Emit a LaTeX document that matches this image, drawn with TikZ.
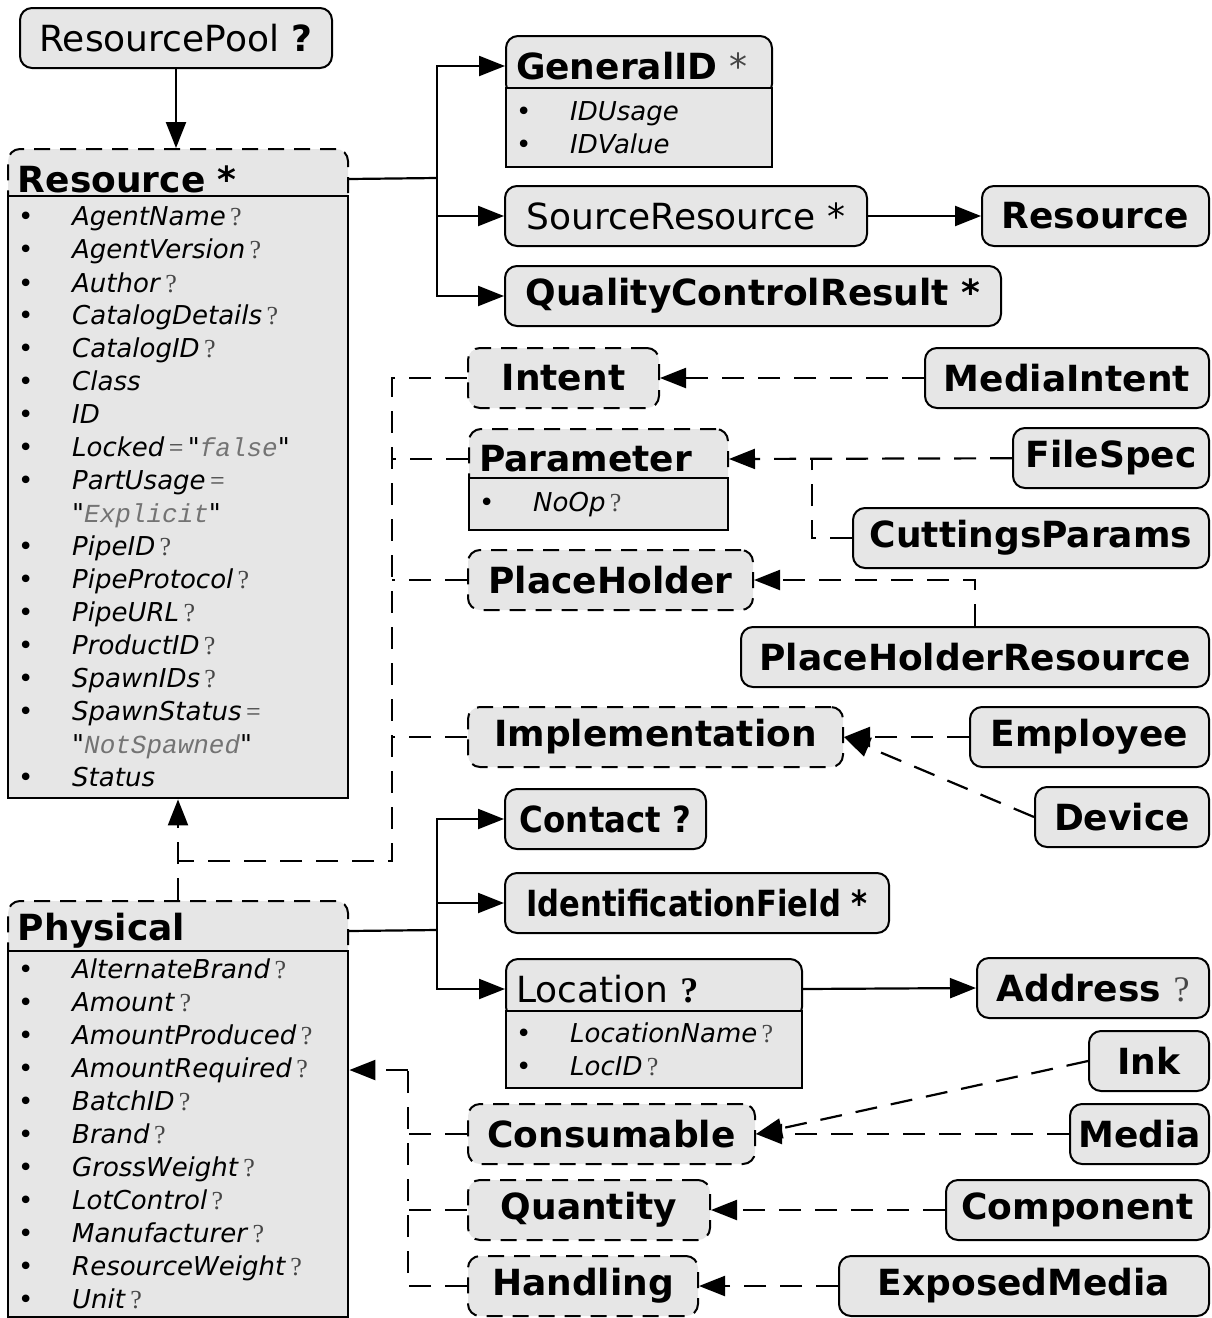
\documentclass[tikz,border=0pt]{standalone}
\usepackage{fontspec}
\setmainfont{DejaVu Sans}[Ligatures=TeXOff]
\newfontfamily\qfont{Liberation Serif}
\newfontfamily\valfont{Liberation Mono}
\usetikzlibrary{arrows.meta, calc}
\definecolor{boxgray}{RGB}{230,230,230}
\definecolor{qgray}{RGB}{70,70,70}
\definecolor{valgray}{RGB}{115,115,115}

\newcommand{\opt}{\,{\qfont\color{qgray}?}}
\newcommand{\eqv}{\,{\qfont\color{qgray}=}}
\newcommand{\val}[1]{"{\valfont\itshape\color{valgray}#1}"}
\newcommand{\itm}[1]{\makebox[27pt][l]{\textbullet}\textit{#1}}
\newcommand{\cont}{\hspace*{27pt}}
\newcommand{\narrow}[2]{\scalebox{#1}[1]{#2}}

\begin{document}
\begin{tikzpicture}[x=0.5pt, y=-0.5pt,
  box/.style={draw, line width=1pt, rounded corners=6pt, fill=boxgray, minimum height=30pt, inner xsep=4pt, font=\fontsize{18}{21}\selectfont\bfseries},
  dbox/.style={box, dash pattern=on 8pt off 5pt},
  head/.style={box, anchor=north west, align=left, inner xsep=5pt},
  dhead/.style={head, dash pattern=on 8pt off 5pt},
  body/.style={draw, line width=1.2pt, fill=boxgray, anchor=north west, align=left, inner xsep=5pt, font=\fontsize{13}{16.5}\selectfont},
  link/.style={line width=1.1pt},
  dlink/.style={link, dash pattern=on 11pt off 7pt},
  conn/.style={link, -{Triangle[length=13pt,width=10pt]}},
  dep/.style={conn, dash pattern=on 11pt off 7pt}]
\useasboundingbox (0,0) rectangle (1211,1318);

% left column
\node[box, minimum width=156pt] (pool) at (176,38) {{\mdseries ResourcePool} ?};
\node[dhead, text width=160pt] (res) at (7,148) {Resource *};
\node[body, text width=160pt, minimum height=301pt] (resbody) at (7,195) {%
\itm{AgentName}\opt\\
\itm{AgentVersion}\opt\\
\itm{Author}\opt\\
\itm{CatalogDetails}\opt\\
\itm{CatalogID}\opt\\
\itm{Class}\\
\itm{ID}\\
\itm{Locked}\eqv\,\val{false}\\
\itm{PartUsage}\eqv\\
\cont\val{Explicit}\\
\itm{PipeID}\opt\\
\itm{PipeProtocol}\opt\\
\itm{PipeURL}\opt\\
\itm{ProductID}\opt\\
\itm{SpawnIDs}\opt\\
\itm{SpawnStatus}\eqv\\
\cont\val{NotSpawned}\\
\itm{Status}};
\node[dhead, text width=160pt] (physical) at (7,900) {Physical};
\node[body, text width=160pt, minimum height=183pt] (phbody) at (7,950) {%
\itm{AlternateBrand}\opt\\
\itm{Amount}\opt\\
\itm{AmountProduced}\opt\\
\itm{AmountRequired}\opt\\
\itm{BatchID}\opt\\
\itm{Brand}\opt\\
\itm{GrossWeight}\opt\\
\itm{LotControl}\opt\\
\itm{Manufacturer}\opt\\
\itm{ResourceWeight}\opt\\
\itm{Unit}\opt};

% children of Resource
\node[head, text width=123pt] (genid) at (505,35) {GeneralID {\mdseries\color{qgray}*}};
\node[body, text width=123pt, minimum height=39.5pt] (genbody) at (505,87) {%
\itm{IDUsage}\\
\itm{IDValue}};
\node[box, minimum width=181pt] (srcres) at (686,216) {\mdseries SourceResource *};
\node[box, minimum width=113.5pt] (resref) at (1095.5,216) {Resource};
\node[box, minimum width=248pt] (qcr) at (753,296) {QualityControlResult *};

% abstract resources
\node[dbox, minimum width=95.5pt] (intent) at (563.5,378) {Intent};
\node[box, minimum width=142pt] (mintent) at (1067,378) {MediaIntent};
\node[dhead, text width=119.5pt] (param) at (468,428) {Parameter};
\node[body, text width=119.5pt, minimum height=26pt] (parbody) at (468,477) {\itm{NoOp}\opt};
\node[box, minimum width=98pt] (filespec) at (1111,458) {FileSpec};
\node[box, minimum width=178pt] (cutparams) at (1031,538) {CuttingsParams};
\node[dbox, minimum width=142.5pt] (placeholder) at (610.5,580) {PlaceHolder};
\node[box, minimum width=234pt] (phres) at (975,657) {PlaceHolderResource};
\node[dbox, minimum width=187.5pt] (impl) at (655.5,737) {Implementation};
\node[box, minimum width=119.5pt] (employee) at (1089.5,737) {Employee};
\node[box, minimum width=87pt] (device) at (1122,817) {Device};

% children of Physical
\node[box, minimum width=100.5pt] (contact) at (605.5,819) {\narrow{0.9}{Contact ?}};
\node[box, minimum width=192pt] (idfield) at (697,903) {\narrow{0.85}{IdentificationField *}};
\node[head, text width=138pt] (loc) at (505,958) {{\mdseries Location} {\qfont\bfseries ?}};
\node[body, text width=138pt, minimum height=38.5pt] (locbody) at (505,1010) {%
\itm{LocationName}\opt\\
\itm{LocID}\opt};
\node[box, minimum width=116pt] (address) at (1093,988) {Address {\mdseries\qfont\color{qgray}?}};
\node[box, minimum width=60pt] (ink) at (1149,1061) {Ink};
\node[dbox, minimum width=143.5pt] (consumable) at (611.5,1134) {Consumable};
\node[box, minimum width=69.5pt] (media) at (1139.5,1134) {Media};
\node[dbox, minimum width=121pt] (quantity) at (589,1210) {Quantity};
\node[box, minimum width=131.5pt] (component) at (1077.5,1210) {Component};
\node[dbox, minimum width=115pt] (handling) at (583,1286) {Handling};
\node[box, minimum width=185pt] (exposed) at (1024,1286) {ExposedMedia};

\coordinate (rfork) at (437,178);
\coordinate (pfork) at (437,930);
\coordinate (rbus) at (392,861);
\coordinate (pbus) at (408,1070);
\coordinate (cjoin) at (812,458);

\draw[conn] (pool.south) -- (pool.south |- res.north);
\draw[link] (res.east) -- (rfork);
\draw[conn] (rfork) |- (genid.west);
\draw[conn] (rfork) |- (srcres.west);
\draw[conn] (rfork) |- (qcr.west);
\draw[conn] (srcres) -- (resref);

% bus to Resource
\draw[dlink] (intent.west) -| (rbus) -- (rbus -| physical.north);
\draw[dep] (physical.north) -- (physical.north |- resbody.south);
\draw[dlink] (param.west) -- (param.west -| rbus);
\draw[dlink] (placeholder.west) -- (placeholder.west -| rbus);
\draw[dlink] (impl.west) -- (impl.west -| rbus);

\draw[dep] (mintent) -- (intent);
\draw[dep] (filespec) -- (param.east);
\draw[dlink] (cutparams.west) -| (cjoin);
\draw[dep] (phres.north) |- (placeholder.east);
\draw[dep] (employee) -- (impl);
\draw[dep] (device.west) -- (impl.east);

\draw[link] (physical.east) -- (pfork);
\draw[conn] (pfork) |- (contact.west);
\draw[conn] (pfork) |- (idfield.west);
\draw[conn] (pfork) |- (loc.west);
\draw[conn] (loc.east) -- (address.west);

% bus to Physical
\draw[dlink] (handling.west) -| (pbus);
\draw[dep] (pbus) -- (pbus -| phbody.east);
\draw[dlink] (consumable.west) -- (consumable.west -| pbus);
\draw[dlink] (quantity.west) -- (quantity.west -| pbus);

\draw[dep] (ink.west) -- (consumable.east);
\draw[dep] (media) -- (consumable);
\draw[dep] (component) -- (quantity);
\draw[dep] (exposed) -- (handling);
\end{tikzpicture}
\end{document}
